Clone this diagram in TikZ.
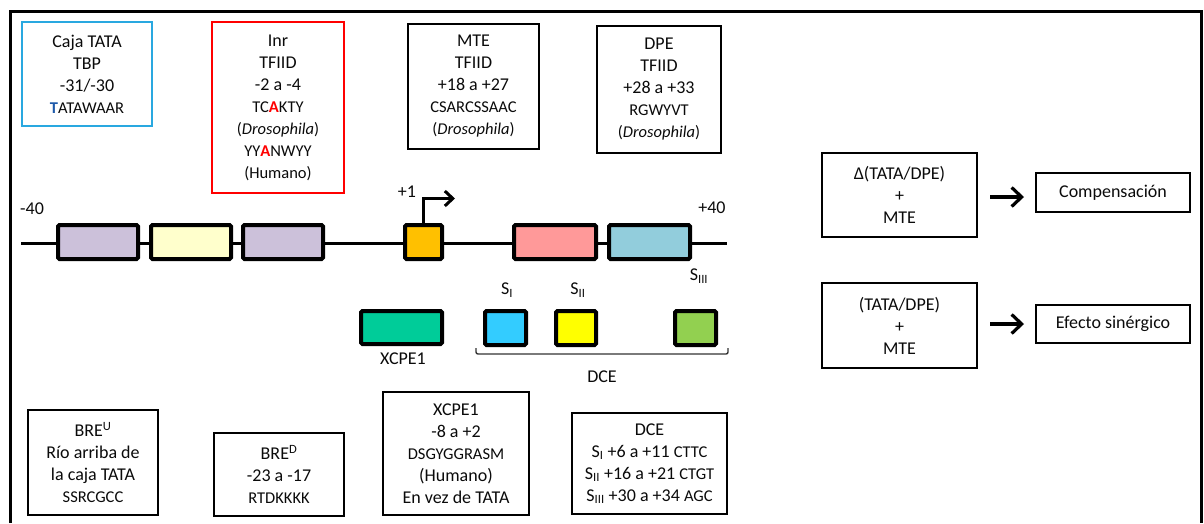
\documentclass[tikz,border=0pt]{standalone}
\usepackage{fontspec}
\setmainfont{Carlito}
\usetikzlibrary{arrows.meta}
\definecolor{txt}{RGB}{10,10,10}
\definecolor{tblue}{RGB}{41,168,224}
\definecolor{tTblue}{RGB}{30,90,170}
\definecolor{lav}{RGB}{204,193,218}
\definecolor{cream}{RGB}{255,255,204}
\definecolor{orng}{RGB}{255,192,0}
\definecolor{pnk}{RGB}{255,153,153}
\definecolor{lblue}{RGB}{146,205,220}
\definecolor{teal}{RGB}{0,204,153}
\definecolor{cyn}{RGB}{51,204,255}
\definecolor{yel}{RGB}{255,255,0}
\definecolor{grn}{RGB}{146,208,80}
\newcommand\smtxt{\fontsize{16.5}{22}\selectfont}
\tikzset{
  tbox/.style={draw, line width=1.8pt, align=center, inner sep=0pt, text=txt,
    font=\fontsize{18}{22}\selectfont},
  gbox/.style={draw, line width=4pt, rounded corners=1.5pt, inner sep=0pt,
    minimum height=34pt},
  lbl/.style={inner sep=0pt, text=txt, font=\fontsize{18}{22}\selectfont},
  barrow/.style={line width=3.2pt, -{Straight Barb[length=10pt,width=19pt,line width=3.2pt]}},
  tssarrow/.style={line width=3pt, -{Straight Barb[length=8pt,width=15pt,line width=3pt]}},
  brace/.style={line width=1.4pt, draw=black!80, rounded corners=2pt}
}
\begin{document}
\begin{tikzpicture}[x=1pt,y=-1pt]
\useasboundingbox (0,0) rectangle (1204,523);
% frame
\draw[line width=3pt] (10,523) -- (10,11) -- (1201,11) -- (1201,523);

% top boxes
\node[tbox, draw=tblue, minimum width=130pt, minimum height=104pt] (tata) at (87,74)
  {Caja TATA\\TBP\\-31/-30\\{\smtxt\textcolor{tTblue}{\textbf{T}}ATAWAAR}};
\node[tbox, draw=red, minimum width=132pt, minimum height=171pt] (inr) at (278,107.5)
  {Inr\\TFIID\\-2 a -4\\{\smtxt TC\textcolor{red}{\textbf{A}}KTY}\\{\smtxt(\textit{Drosophila})}\\{\smtxt YY\textcolor{red}{\textbf{A}}NWYY}\\{\smtxt(Humano)}};
\node[tbox, minimum width=131pt, minimum height=125pt] (mte) at (473.5,86.5)
  {MTE\\TFIID\\+18 a +27\\{\smtxt CSARCSSAAC}\\{\smtxt(\textit{Drosophila})}};
\node[tbox, minimum width=124pt, minimum height=127pt] (dpe) at (659,89.5)
  {DPE\\TFIID\\+28 a +33\\{\smtxt RGWYVT}\\{\smtxt(\textit{Drosophila})}};

% DNA line
\coordinate (dnaL) at (21,243);
\coordinate (dnaR) at (727,243);
\draw[line width=3pt] (dnaL) -- (dnaR);
\node[gbox, fill=lav,   minimum width=80pt] (b1) at (98,242) {};
\node[gbox, fill=cream, minimum width=80pt] (b2) at (191,242) {};
\node[gbox, fill=lav,   minimum width=80pt] (b3) at (283,242) {};
\node[gbox, fill=orng,  minimum width=37pt] (inrb) at (423.5,242) {};
\node[gbox, fill=pnk,   minimum width=82pt] (mteb) at (555,242) {};
\node[gbox, fill=lblue, minimum width=81pt] (dpeb) at (649.5,242) {};
\node[lbl] (m40) at (32,209) {-40};
\node[lbl] (p40) at (712,208) {+40};
\node[lbl] (p1) at (407,192) {+1};
\coordinate (tss) at (455,198.5);
\draw[tssarrow] (inrb.north) |- (tss);

% S labels
\node[lbl] (s1) at (507,290) {S\textsubscript{I}};
\node[lbl] (s2) at (578,290) {S\textsubscript{II}};
\node[lbl] (s3) at (699,276) {S\textsubscript{III}};

% lower small boxes
\node[gbox, fill=teal, minimum width=81pt, minimum height=33pt] (xb) at (401.5,327.5) {};
\node[gbox, fill=cyn, minimum width=41pt] (d1) at (505.5,328) {};
\node[gbox, fill=yel, minimum width=40pt] (d2) at (576,328) {};
\node[gbox, fill=grn, minimum width=41pt] (d3) at (695.5,328) {};
\node[lbl] (xl) at (403,359) {XCPE1};
\draw[brace] (476,348) -- (476,354) -- (728,354) -- (728,348);
\node[lbl] (dl) at (602,377) {DCE};

% bottom boxes
\node[tbox, minimum width=130pt, minimum height=105pt] (breu) at (93,462.5)
  {BRE\textsuperscript{U}\\Río arriba de\\la caja TATA\\{\smtxt SSRCGCC}};
\node[tbox, minimum width=130pt, minimum height=83pt] (bred) at (279,474.5)
  {BRE\textsuperscript{D}\\-23 a -17\\{\smtxt RTDKKKK}};
\node[tbox, minimum width=146pt, minimum height=123pt] (xcpe) at (456,453.5)
  {XCPE1\\-8 a +2\\{\smtxt DSGYGGRASM}\\(Humano)\\En vez de TATA};
\node[tbox, minimum width=155pt, minimum height=101pt] (dce) at (649.5,463.5)
  {DCE\\S\textsubscript{I} +6 a +11 {\smtxt CTTC}\\S\textsubscript{II} +16 a +21 {\smtxt CTGT}\\S\textsubscript{III} +30 a +34 {\smtxt AGC}};

% right side
\node[tbox, minimum width=155pt, minimum height=84pt] (delta) at (899.5,195)
  {Δ(TATA/DPE)\\+\\MTE};
\node[tbox, minimum width=154pt, minimum height=39pt] (comp) at (1113,192.5) {Compensación};
\node[tbox, minimum width=155pt, minimum height=85pt] (syn) at (899.5,325.5)
  {(TATA/DPE)\\+\\MTE};
\node[tbox, minimum width=154pt, minimum height=38pt] (efec) at (1113,324) {Efecto sinérgico};
\coordinate (a1s) at (990,197);
\coordinate (a1e) at (1024,197);
\coordinate (a2s) at (990,324);
\coordinate (a2e) at (1024,324);
\draw[barrow] (a1s) -- (a1e);
\draw[barrow] (a2s) -- (a2e);
\end{tikzpicture}
\end{document}
